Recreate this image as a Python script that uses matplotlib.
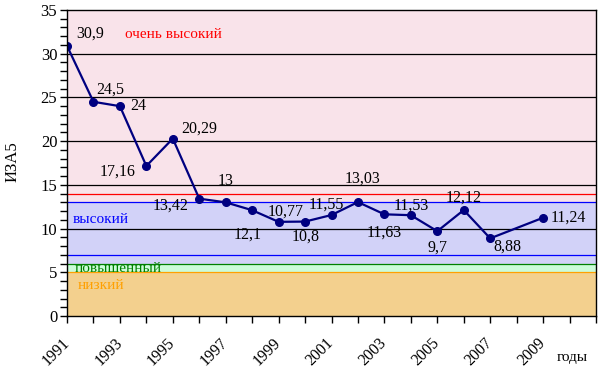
import numpy as np
import matplotlib
matplotlib.use("Agg")
import matplotlib.pyplot as plt
import matplotlib.transforms as mtransforms
from matplotlib.ticker import MultipleLocator

# data
years = [1991, 1992, 1993, 1994, 1995, 1996, 1997, 1998, 1999, 2000,
         2001, 2002, 2003, 2004, 2005, 2006, 2007, 2009]
iza = [30.9, 24.5, 24.0, 17.16, 20.29, 13.42, 13.0, 12.1, 10.77, 10.8,
       11.55, 13.03, 11.63, 11.53, 9.7, 12.12, 8.88, 11.24]
labels = ["30,9", "24,5", "24", "17,16", "20,29", "13,42", "13", "12,1",
          "10,77", "10,8", "11,55", "13,03", "11,63", "11,53", "9,7",
          "12,12", "8,88", "11,24"]
# label offsets in pixels (dx, dy)
offsets = [(23, 12), (17, 12), (18, 0), (-29, -6), (26, 10), (-29, -7),
           (0, 21), (-5, -24), (7, 10), (1, -15), (-5, 10), (5, 23),
           (0, -18), (0, 10), (0, -16), (0, 12), (17, -8), (25, 0)]

tick_years = list(range(1991, 2012))
label_years = list(range(1991, 2010, 2))

# background zones (low, high, colour)
bands = [
    (13, 35, "#f9e3ea"),
    (6, 13, "#d2d2f8"),
    (5, 6, "#ccfcda"),
    (0, 5, "#f3d08e"),
]
level_lines = [(14, "#ff0000"), (13, "#0000ff"), (7, "#0000ff"),
               (6, "#008000"), (5, "#ffa000")]
level_names = [("очень высокий", 1993.2, 32.2, "#ff0000"),
               ("высокий", 1991.2, 11.0, "#0000ff"),
               ("повышенный", 1991.3, 5.4, "#008000"),
               ("низкий", 1991.4, 3.5, "#ffa000")]

plt.rcParams['font.family'] = ['Liberation Serif', 'DejaVu Serif']

fig = plt.figure(figsize=(6.06, 3.76), dpi=100)
ax = fig.add_axes([67/606, 1-316/376, 529/606, 306/376])

for lo, hi, c in bands:
    ax.axhspan(lo, hi, color=c, lw=0, zorder=0)

for y in [10, 15, 20, 25, 30]:
    ax.axhline(y, color="black", lw=0.9, zorder=1)

for y, c in level_lines:
    ax.axhline(y, color=c, lw=0.9, zorder=2)

for name, x, y, c in level_names:
    ax.text(x, y, name, color=c, fontsize=11, ha="left", va="center", zorder=4)

ax.plot(years, iza, color="#000080", lw=1.6, marker="o", markersize=5.5, zorder=5)

for x, y, s, (dx, dy) in zip(years, iza, labels, offsets):
    ax.annotate(s, (x, y), xytext=(dx, dy), textcoords="offset pixels",
                ha="center", va="center", fontsize=11.5, zorder=6)

ax.set_xlim(1991, 2011)
ax.set_ylim(0, 35)
ax.set_xticks(tick_years)
ax.set_xticklabels([str(y) if y in label_years else "" for y in tick_years],
                   rotation=45, ha="right", va="center", rotation_mode="anchor",
                   fontsize=11.5)
shift = mtransforms.ScaledTranslation(-6/100, 0, fig.dpi_scale_trans)
for lbl in ax.get_xticklabels():
    lbl.set_transform(lbl.get_transform() + shift)
ax.yaxis.set_major_locator(MultipleLocator(5))
ax.yaxis.set_minor_locator(MultipleLocator(1))
ax.tick_params(axis="y", which="both", direction="out", length=5, width=1,
               labelsize=12, pad=2)
ax.tick_params(axis="x", which="major", direction="out", length=5, width=1, pad=13)

for sp in ax.spines.values():
    sp.set_linewidth(1.0)
    sp.set_zorder(7)

fig.text(13/606, 1-162/376, "ИЗА5", rotation=90, ha="center", va="center", fontsize=12)
fig.text(572/606, 1-357/376, "годы", ha="center", va="center", fontsize=11)

fig.savefig("out.png", dpi=100)
